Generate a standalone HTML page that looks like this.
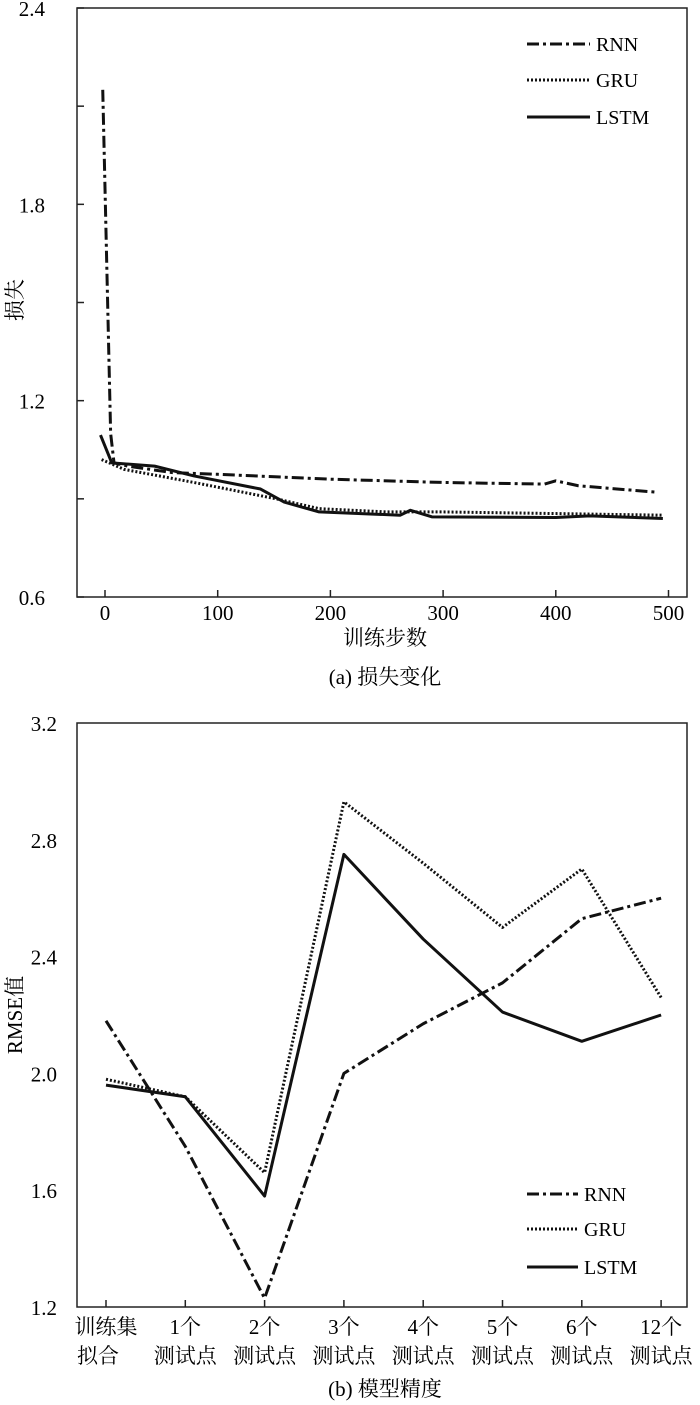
<!DOCTYPE html>
<html><head><meta charset="utf-8"><style>
html,body{margin:0;padding:0;background:#fff;}
svg{display:block;font-family:"Liberation Serif","Noto Serif CJK SC",serif;}
</style></head><body>
<svg id="c" width="700" height="1405" viewBox="0 0 700 1405"></svg>
<script>
// Top chart data
const stepsRNN=[-2,5,8,20,60,100,200,300,390,400,420,490];
const lossRNN=[2.15,1.1,1.01,1.0,0.98,0.975,0.96,0.95,0.945,0.955,0.94,0.92];
const stepsGRU=[-3,17,79,152,190,250,300,400,495];
const lossGRU=[1.02,0.99,0.95,0.9,0.87,0.86,0.86,0.855,0.85];
const stepsLSTM=[-4,6,44,79,138,159,190,262,271,290,400,430,495];
const lossLSTM=[1.095,1.01,1.0,0.97,0.93,0.89,0.86,0.85,0.865,0.845,0.843,0.848,0.84];
const topXTicks=[0,100,200,300,400,500];
const topYTicks=[0.6,0.9,1.2,1.5,1.8,2.1,2.4];
const topYLabels=["0.6","","1.2","","1.8","","2.4"];
// Bottom chart data
const categories=[["训练集","拟合"],["1个","测试点"],["2个","测试点"],["3个","测试点"],["4个","测试点"],["5个","测试点"],["6个","测试点"],["12个","测试点"]];
const rmseRNN=[2.18,1.75,1.23,2.0,2.17,2.31,2.53,2.60];
const rmseGRU=[1.98,1.92,1.66,2.93,2.72,2.50,2.70,2.26];
const rmseLSTM=[1.96,1.92,1.58,2.75,2.46,2.21,2.11,2.20];
const botYTicks=[1.2,1.6,2.0,2.4,2.8,3.2];

const svg=document.getElementById('c');
const NS='http://www.w3.org/2000/svg';
function mk(tag,at,parent){const e=document.createElementNS(NS,tag);for(const k in at)e.setAttribute(k,at[k]);(parent||svg).appendChild(e);return e;}
const styles={RNN:{w:3,d:"12 4 3 4"},GRU:{w:3,d:"2 2"},LSTM:{w:3,d:""}};

// ---- top
const tx=v=>105+(v/100)*112.7, ty=v=>597-(v-0.6)/1.8*589;
const gt=mk('g',{});
let r=mk('rect',{x:77,y:8,width:610,height:589,fill:'none',stroke:'#222','stroke-width':1.5},gt);

topYTicks.forEach((v,i)=>{mk('line',{x1:77,x2:84,y1:ty(v),y2:ty(v),stroke:'#222','stroke-width':1.5},gt);
 if(topYLabels[i]){const t=mk('text',{x:45,y:ty(v)+8,'font-size':21,'text-anchor':'end'},gt);t.textContent=topYLabels[i];
 }});
topXTicks.forEach(v=>{mk('line',{x1:tx(v),x2:tx(v),y1:597,y2:590,stroke:'#222','stroke-width':1.5},gt);
 const t=mk('text',{x:tx(v),y:620,'font-size':21,'text-anchor':'middle'},gt);t.textContent=v;
 });
function series(xs,ys,fx,fy,st,name,g){const p=mk('polyline',{points:xs.map((x,i)=>fx(x)+','+fy(ys[i])).join(' '),fill:'none',stroke:'#111','stroke-width':st.w,'stroke-dasharray':st.d,'stroke-linejoin':'round'},g);
 }
series(stepsRNN,lossRNN,tx,ty,styles.RNN,'rnn-loss-line',gt);
series(stepsGRU,lossGRU,tx,ty,styles.GRU,'gru-loss-line',gt);
series(stepsLSTM,lossLSTM,tx,ty,styles.LSTM,'lstm-loss-line',gt);
function legend(g,x1,x2,ys){["RNN","GRU","LSTM"].forEach((n,i)=>{const l=mk('line',{x1:x1,x2:x2,y1:ys[i],y2:ys[i],stroke:'#111','stroke-width':3,'stroke-dasharray':styles[n].d},g);
 
 const t=mk('text',{x:x2+6,y:ys[i]+7,'font-size':20},g);t.textContent=n;
 });}
legend(gt,527,590,[44,80,117]);
let t=mk('text',{x:0,y:0,'font-size':21,'text-anchor':'middle',transform:'translate(22,300) rotate(-90)'},gt);t.textContent='损失';

t=mk('text',{x:385,y:645,'font-size':21,'text-anchor':'middle'},gt);t.textContent='训练步数';

t=mk('text',{x:385,y:684,'font-size':21,'text-anchor':'middle'},gt);t.textContent='(a) 损失变化';


// ---- bottom
const bx=i=>106+i*79.3, by=v=>1307-(v-1.2)/2.0*584;
const gb=mk('g',{});
r=mk('rect',{x:77,y:723,width:610,height:584,fill:'none',stroke:'#222','stroke-width':1.5},gb);

botYTicks.forEach(v=>{t=mk('text',{x:57,y:by(v)+8,'font-size':21,'text-anchor':'end'},gb);t.textContent=v.toFixed(1);
 });
categories.forEach((c,i)=>{mk('line',{x1:bx(i),x2:bx(i),y1:1307,y2:1300,stroke:'#222','stroke-width':1.5},gb);
 c.forEach((s,j)=>{t=mk('text',{x:bx(i)-(i===0&&j===1?8:0),y:1334+j*29,'font-size':21,'text-anchor':'middle'},gb);t.textContent=s;
 });});
const idx=categories.map((c,i)=>i);
series(idx,rmseRNN,bx,by,styles.RNN,'rnn-rmse-line',gb);
series(idx,rmseGRU,bx,by,styles.GRU,'gru-rmse-line',gb);
series(idx,rmseLSTM,bx,by,styles.LSTM,'lstm-rmse-line',gb);
legend(gb,527,578,[1194,1229,1267]);
t=mk('text',{x:0,y:0,'font-size':21,'text-anchor':'middle',transform:'translate(22,1015) rotate(-90)'},gb);t.textContent='RMSE值';

t=mk('text',{x:385,y:1396,'font-size':21,'text-anchor':'middle'},gb);t.textContent='(b) 模型精度';

</script>
</body></html>
